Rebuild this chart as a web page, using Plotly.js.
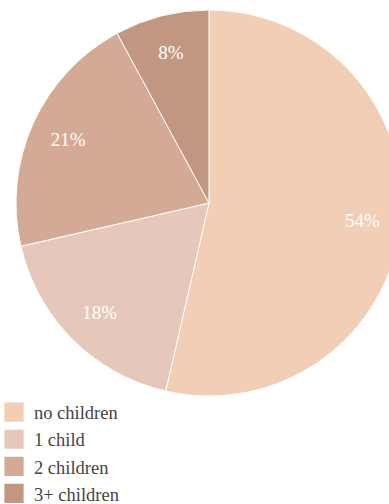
<!DOCTYPE html>
<html><head><meta charset="utf-8">
<script src="https://cdn.plot.ly/plotly-3.0.1.min.js"></script>
<style>html,body{margin:0;padding:0;overflow:hidden;background:#fff;width:389px;height:504px}#chart{width:402px;height:504px}</style>
</head><body><div id="chart"></div>
<script>
const categories = ["no children", "1 child", "2 children", "3+ children"];
const shares = [53.6, 17.8, 20.7, 7.9];
const colors = ["#F2CEB6", "#E6C8BA", "#D4AA97", "#C19782"];
const serif = "Liberation Serif, serif";

const base = {
  type: "pie",
  labels: categories,
  values: shares,
  sort: false,
  direction: "clockwise",
  rotation: 0,
  domain: {x: [0, 1], y: [0, 1]},
  hoverinfo: "skip"
};

Plotly.newPlot("chart", [
  Object.assign({}, base, {
    marker: {colors: colors, line: {color: "#ffffff", width: 1}},
    textinfo: "none",
    showlegend: true
  }),
  Object.assign({}, base, {
    hole: 0.6,
    marker: {colors: categories.map(() => "rgba(0,0,0,0)"), line: {width: 0}},
    texttemplate: "%{percent:.0%}",
    textposition: "inside",
    insidetextorientation: "horizontal",
    textfont: {family: serif, size: 19, color: "#ffffff"},
    showlegend: false
  })
], {
  width: 402, height: 504,
  margin: {l: 16, r: 0, t: 10, b: 108, pad: 0, autoexpand: false},
  paper_bgcolor: "#ffffff",
  showlegend: true,
  legend: {
    orientation: "v", x: -0.057, xanchor: "left", y: 0.006, yanchor: "top",
    font: {family: serif, size: 18.5, color: "#444444"},
    itemclick: false
  },
  font: {family: serif}
}, {displayModeBar: false, staticPlot: true}).then(() => {
  document.querySelectorAll(".legendpoints path").forEach(p => {
    p.setAttribute("transform", "translate(20,0) scale(1.6)");
    p.style.strokeWidth = "0";
  });
});
</script></body></html>
